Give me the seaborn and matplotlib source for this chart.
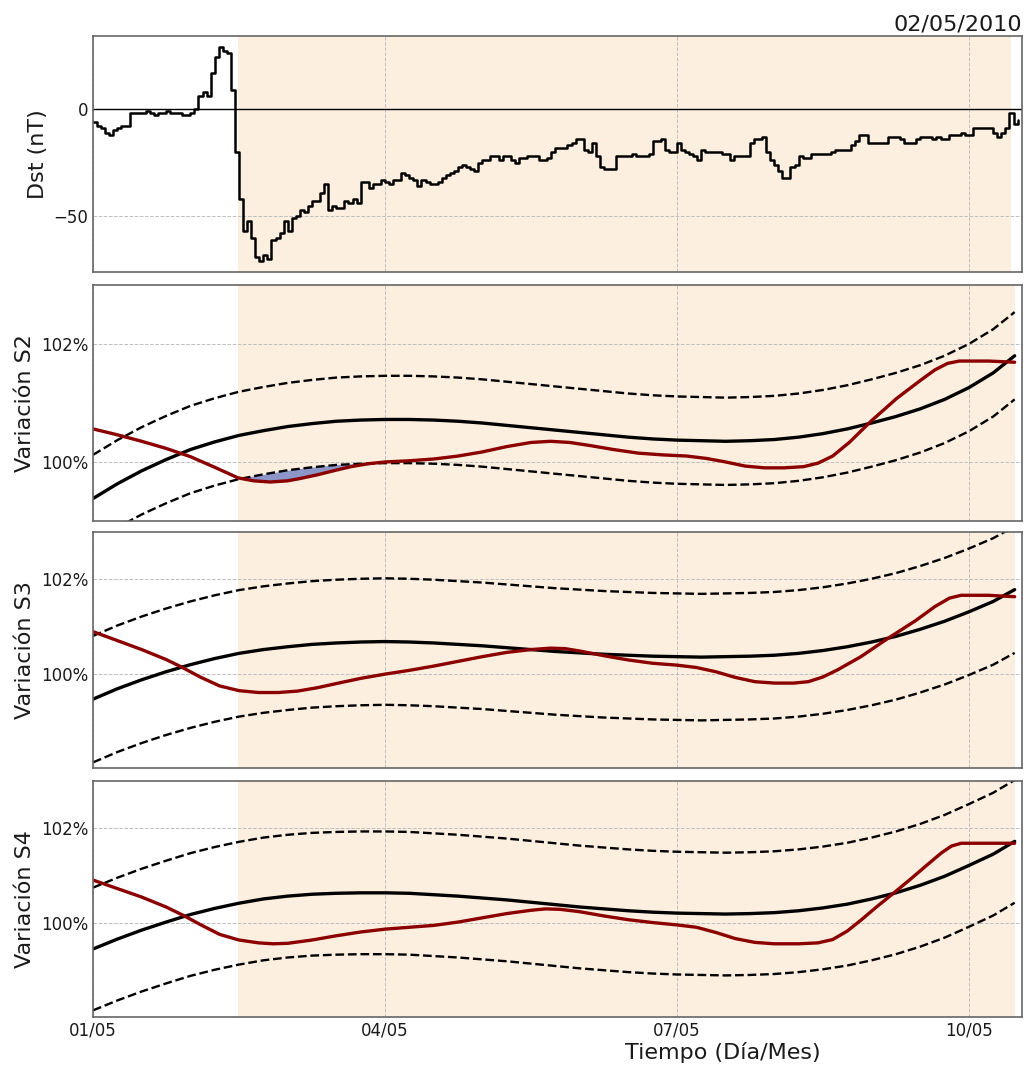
import numpy as np
import pandas as pd
import seaborn as sns
import matplotlib.pyplot as plt
import matplotlib.dates as mdates
from matplotlib.ticker import FuncFormatter

t0 = pd.Timestamp('2010-05-01')

# hourly Dst index (nT), starting 01/05 00:00
dst = [-6, -8, -9, -11, -12, -10, -9, -8, -8, -2,
       -2, -2, -2, -1, -2, -3, -2, -2, -1, -2,
       -2, -2, -3, -3, -2, 0, 6, 8, 6, 17,
       24, 29, 27, 26, 9, -20, -42, -57, -52, -60,
       -69, -71, -68, -70, -61, -60, -58, -52, -57, -51,
       -50, -47, -48, -45, -43, -43, -39, -35, -47, -45,
       -46, -46, -43, -44, -42, -44, -34, -34, -37, -35,
       -35, -33, -34, -35, -33, -33, -30, -31, -32, -33,
       -36, -33, -34, -35, -35, -34, -32, -31, -30, -29,
       -27, -26, -27, -28, -29, -25, -24, -24, -22, -22,
       -24, -22, -22, -24, -25, -23, -23, -22, -22, -22,
       -24, -24, -23, -20, -18, -18, -18, -17, -16, -14,
       -14, -19, -20, -16, -22, -27, -28, -28, -28, -22,
       -22, -22, -22, -21, -22, -22, -22, -21, -15, -15,
       -14, -19, -20, -20, -16, -19, -20, -21, -22, -24,
       -19, -20, -20, -20, -20, -21, -21, -24, -22, -22,
       -22, -22, -16, -14, -14, -13, -20, -24, -26, -29,
       -32, -32, -27, -26, -22, -23, -23, -21, -21, -21,
       -21, -21, -20, -19, -19, -19, -19, -17, -15, -12,
       -12, -16, -16, -16, -16, -16, -13, -13, -13, -14,
       -16, -16, -16, -14, -13, -13, -13, -14, -13, -14,
       -14, -12, -12, -12, -11, -12, -12, -9, -9, -9,
       -9, -9, -11, -13, -11, -9, -2, -7, -5]

# fitted trend and confidence band, sampled every 6 h (days since 01/05)
fit_days = [0, 0.25, 0.5, 0.75, 1, 1.25, 1.5, 1.75, 2, 2.25, 2.5, 2.75, 3, 3.25, 3.5, 3.75,
            4, 4.25, 4.5, 4.75, 5, 5.25, 5.5, 5.75, 6, 6.25, 6.5, 6.75, 7, 7.25, 7.5, 7.75,
            8, 8.25, 8.5, 8.75, 9, 9.25, 9.47]

s2_mean = [99.38, 99.63, 99.85, 100.04, 100.21, 100.34, 100.45, 100.53, 100.60, 100.65,
           100.69, 100.71, 100.72, 100.72, 100.71, 100.69, 100.66, 100.62, 100.58, 100.54,
           100.50, 100.46, 100.42, 100.39, 100.37, 100.36, 100.35, 100.36, 100.38, 100.42,
           100.48, 100.56, 100.66, 100.77, 100.90, 101.06, 101.26, 101.51, 101.80]
s2_upper = [100.12, 100.37, 100.59, 100.78, 100.95, 101.08, 101.19, 101.27, 101.34, 101.39,
            101.43, 101.45, 101.46, 101.46, 101.45, 101.43, 101.40, 101.36, 101.32, 101.28,
            101.24, 101.20, 101.16, 101.13, 101.11, 101.10, 101.09, 101.10, 101.12, 101.16,
            101.22, 101.30, 101.40, 101.51, 101.64, 101.80, 102.00, 102.25, 102.54]
s2_lower = [98.64, 98.89, 99.11, 99.30, 99.47, 99.60, 99.71, 99.79, 99.86, 99.91,
            99.95, 99.97, 99.98, 99.98, 99.97, 99.95, 99.92, 99.88, 99.84, 99.80,
            99.76, 99.72, 99.68, 99.65, 99.63, 99.62, 99.61, 99.62, 99.64, 99.68,
            99.74, 99.82, 99.92, 100.03, 100.16, 100.32, 100.52, 100.77, 101.06]

s3_mean = [99.46, 99.68, 99.87, 100.04, 100.19, 100.32, 100.43, 100.51, 100.57, 100.62,
           100.65, 100.67, 100.68, 100.67, 100.65, 100.62, 100.59, 100.55, 100.51, 100.47,
           100.44, 100.41, 100.39, 100.37, 100.36, 100.35, 100.36, 100.37, 100.39, 100.43,
           100.49, 100.57, 100.67, 100.79, 100.94, 101.11, 101.31, 101.53, 101.78]
s3_upper = [100.80, 101.02, 101.21, 101.38, 101.53, 101.66, 101.77, 101.85, 101.91, 101.96,
            101.99, 102.01, 102.02, 102.01, 101.99, 101.96, 101.93, 101.89, 101.85, 101.81,
            101.78, 101.75, 101.73, 101.71, 101.70, 101.69, 101.70, 101.71, 101.73, 101.77,
            101.83, 101.91, 102.01, 102.13, 102.28, 102.45, 102.65, 102.87, 103.12]
s3_lower = [98.12, 98.34, 98.53, 98.70, 98.85, 98.98, 99.09, 99.17, 99.23, 99.28,
            99.31, 99.33, 99.34, 99.33, 99.31, 99.28, 99.25, 99.21, 99.17, 99.13,
            99.10, 99.07, 99.05, 99.03, 99.02, 99.01, 99.02, 99.03, 99.05, 99.09,
            99.15, 99.23, 99.33, 99.45, 99.60, 99.77, 99.97, 100.19, 100.44]

s4_mean = [99.44, 99.65, 99.84, 100.01, 100.17, 100.30, 100.41, 100.50, 100.56, 100.60,
           100.62, 100.63, 100.63, 100.62, 100.59, 100.56, 100.52, 100.48, 100.43, 100.38,
           100.33, 100.29, 100.25, 100.22, 100.20, 100.19, 100.18, 100.19, 100.21, 100.25,
           100.31, 100.39, 100.50, 100.63, 100.79, 100.98, 101.21, 101.45, 101.72]
s4_upper = [100.74, 100.95, 101.14, 101.31, 101.47, 101.60, 101.71, 101.80, 101.86, 101.90,
            101.92, 101.93, 101.93, 101.92, 101.89, 101.86, 101.82, 101.78, 101.73, 101.68,
            101.63, 101.59, 101.55, 101.52, 101.50, 101.49, 101.48, 101.49, 101.51, 101.55,
            101.61, 101.69, 101.80, 101.93, 102.09, 102.28, 102.51, 102.75, 103.02]
s4_lower = [98.14, 98.35, 98.54, 98.71, 98.87, 99.00, 99.11, 99.20, 99.26, 99.30,
            99.32, 99.33, 99.33, 99.32, 99.29, 99.26, 99.22, 99.18, 99.13, 99.08,
            99.03, 98.99, 98.95, 98.92, 98.90, 98.89, 98.88, 98.89, 98.91, 98.95,
            99.01, 99.09, 99.20, 99.33, 99.49, 99.68, 99.91, 100.15, 100.42]

# observed (smoothed) variation
s2_obs_days = [0, 0.25, 0.5, 0.75, 1.0, 1.25, 1.49, 1.65, 1.82, 2.0, 2.13, 2.3, 2.47, 2.65,
               2.83, 3.0, 3.25, 3.5, 3.75, 4.0, 4.25, 4.5, 4.7, 4.9, 5.1, 5.35, 5.6, 5.85,
               6.1, 6.3, 6.5, 6.7, 6.9, 7.1, 7.3, 7.45, 7.6, 7.77, 8.0, 8.26, 8.5, 8.65,
               8.78, 8.9, 9.2, 9.47]
s2_obs = [100.56, 100.46, 100.35, 100.23, 100.09, 99.91, 99.73, 99.68, 99.66, 99.68, 99.72,
          99.78, 99.85, 99.92, 99.97, 100.00, 100.02, 100.05, 100.10, 100.17, 100.26, 100.33,
          100.35, 100.33, 100.28, 100.21, 100.15, 100.12, 100.10, 100.06, 100.00, 99.93,
          99.90, 99.90, 99.92, 99.98, 100.10, 100.33, 100.70, 101.08, 101.38, 101.56,
          101.67, 101.71, 101.71, 101.69]

s3_obs_days = [0, 0.25, 0.5, 0.75, 0.9, 1.1, 1.3, 1.5, 1.7, 1.9, 2.1, 2.3, 2.5, 2.75, 3.0,
               3.25, 3.5, 3.75, 4.0, 4.25, 4.5, 4.7, 4.85, 5.0, 5.25, 5.5, 5.75, 6.0, 6.2,
               6.4, 6.6, 6.8, 7.0, 7.2, 7.35, 7.5, 7.65, 7.89, 8.17, 8.45, 8.65, 8.8, 8.92,
               9.2, 9.47]
s3_obs = [100.89, 100.70, 100.51, 100.30, 100.15, 99.93, 99.74, 99.64, 99.60, 99.60, 99.63,
          99.70, 99.79, 99.90, 99.99, 100.07, 100.16, 100.26, 100.36, 100.45, 100.51, 100.54,
          100.53, 100.48, 100.38, 100.29, 100.22, 100.18, 100.13, 100.04, 99.92, 99.83,
          99.80, 99.80, 99.83, 99.93, 100.08, 100.36, 100.75, 101.12, 101.42, 101.60,
          101.66, 101.66, 101.63]

s4_obs_days = [0, 0.25, 0.5, 0.75, 0.93, 1.1, 1.3, 1.5, 1.7, 1.85, 2.0, 2.25, 2.5, 2.75,
               3.0, 3.25, 3.5, 3.75, 4.0, 4.25, 4.5, 4.65, 4.8, 5.0, 5.25, 5.5, 5.75, 6.0,
               6.2, 6.4, 6.6, 6.8, 7.0, 7.25, 7.45, 7.6, 7.75, 7.89, 8.05, 8.23, 8.4, 8.57,
               8.72, 8.82, 8.92, 9.2, 9.47]
s4_obs = [100.90, 100.72, 100.54, 100.33, 100.15, 99.96, 99.75, 99.63, 99.57, 99.55, 99.56,
          99.63, 99.72, 99.80, 99.86, 99.90, 99.94, 100.01, 100.10, 100.19, 100.26, 100.29,
          100.28, 100.23, 100.14, 100.06, 100.00, 99.95, 99.90, 99.79, 99.66, 99.58, 99.55,
          99.55, 99.57, 99.64, 99.82, 100.05, 100.33, 100.63, 100.92, 101.22, 101.48,
          101.62, 101.68, 101.68, 101.68]

# S2 drop below the lower band
fill_days = [1.49, 1.65, 1.82, 2.0, 2.13, 2.3, 2.47, 2.65, 2.83]
fill_band = [99.73, 99.76, 99.81, 99.86, 99.89, 99.92, 99.95, 99.97, 99.975]
fill_obs = [99.73, 99.68, 99.66, 99.68, 99.72, 99.78, 99.85, 99.92, 99.97]

# storm window (hours since 01/05)
storm_start_h = 35.8
storm_end_dst_h = 226.5
storm_end_s_h = 227.3
x_end_h = 229.1


def days_to_time(d):
    return t0 + pd.to_timedelta(np.asarray(d, dtype=float), unit='D')


sns.set_style('white')
plt.rcParams['font.family'] = ['DejaVu Sans']

fig = plt.figure(figsize=(10.28, 10.66), dpi=100)
left, width, height = 0.0905, 0.9037, 0.2214
bottoms = [0.7448, 0.5113, 0.2795, 0.0460]
axes = []
for b in bottoms:
    ax = fig.add_axes([left, b, width, height], sharex=axes[0] if axes else None)
    axes.append(ax)

peach = '#fdefe0'
for ax in axes:
    ax.set_axisbelow('line')
    ax.grid(True, ls='--', color='0.75', lw=0.7)
    ax.tick_params(direction='in', length=4, width=0.8, color='0.3', labelsize=12,
                   labelcolor='0.1')
    for s in ax.spines.values():
        s.set_color('0.4')
        s.set_linewidth(1.2)

# Dst panel
ax = axes[0]
dst_time = t0 + pd.to_timedelta(np.arange(len(dst)), unit='h')
ax.axvspan(t0 + pd.Timedelta(hours=storm_start_h), t0 + pd.Timedelta(hours=storm_end_dst_h),
           color=peach, lw=0, zorder=0)
ax.axhline(0, color='k', lw=1, zorder=1.8)
sns.lineplot(x=dst_time, y=dst, ax=ax, color='k', lw=1.8, drawstyle='steps-post', legend=False)
ax.set_ylim(-76, 34)
ax.set_yticks([-50, 0])
ax.set_ylabel('Dst (nT)', fontsize=16, color='0.1')
ax.set_title('02/05/2010', loc='right', fontsize=16, pad=4, color='0.1')

panels = [
    (s2_mean, s2_upper, s2_lower, s2_obs_days, s2_obs, 'Variación S2', (99, 103)),
    (s3_mean, s3_upper, s3_lower, s3_obs_days, s3_obs, 'Variación S3', (98, 103)),
    (s4_mean, s4_upper, s4_lower, s4_obs_days, s4_obs, 'Variación S4', (98, 103)),
]
fit_time = days_to_time(fit_days)
for ax, (mean, up, lo, od, ob, label, ylim) in zip(axes[1:], panels):
    ax.axvspan(t0 + pd.Timedelta(hours=storm_start_h), t0 + pd.Timedelta(hours=storm_end_s_h),
               color=peach, lw=0, zorder=0)
    sns.lineplot(x=fit_time, y=up, ax=ax, color='k', lw=1.7, linestyle='--', legend=False)
    sns.lineplot(x=fit_time, y=lo, ax=ax, color='k', lw=1.7, linestyle='--', legend=False)
    sns.lineplot(x=fit_time, y=mean, ax=ax, color='k', lw=2.4, legend=False)
    sns.lineplot(x=days_to_time(od), y=ob, ax=ax, color='#8b0000', lw=2.4, legend=False)
    ax.set_ylim(*ylim)
    ax.set_yticks([100, 102])
    ax.yaxis.set_major_formatter(FuncFormatter(lambda v, p: f'{v:.0f}%'))
    ax.set_ylabel(label, fontsize=16, color='0.1')

axes[1].fill_between(days_to_time(fill_days), fill_band, fill_obs, color='#8c96c8', lw=0, zorder=1.8)

axes[-1].set_xlim(t0, t0 + pd.Timedelta(hours=x_end_h))
axes[-1].xaxis.set_major_locator(mdates.DayLocator(bymonthday=[1, 4, 7, 10]))
axes[-1].xaxis.set_major_formatter(mdates.DateFormatter('%d/%m'))
for ax in axes[:-1]:
    ax.tick_params(labelbottom=False)
    ax.set_xlabel('')
axes[-1].set_xlabel('Tiempo (Día/Mes)', fontsize=16, color='0.1')
axes[-1].xaxis.set_label_coords(0.678, -0.105)

fig.savefig('out.png', dpi=100)
